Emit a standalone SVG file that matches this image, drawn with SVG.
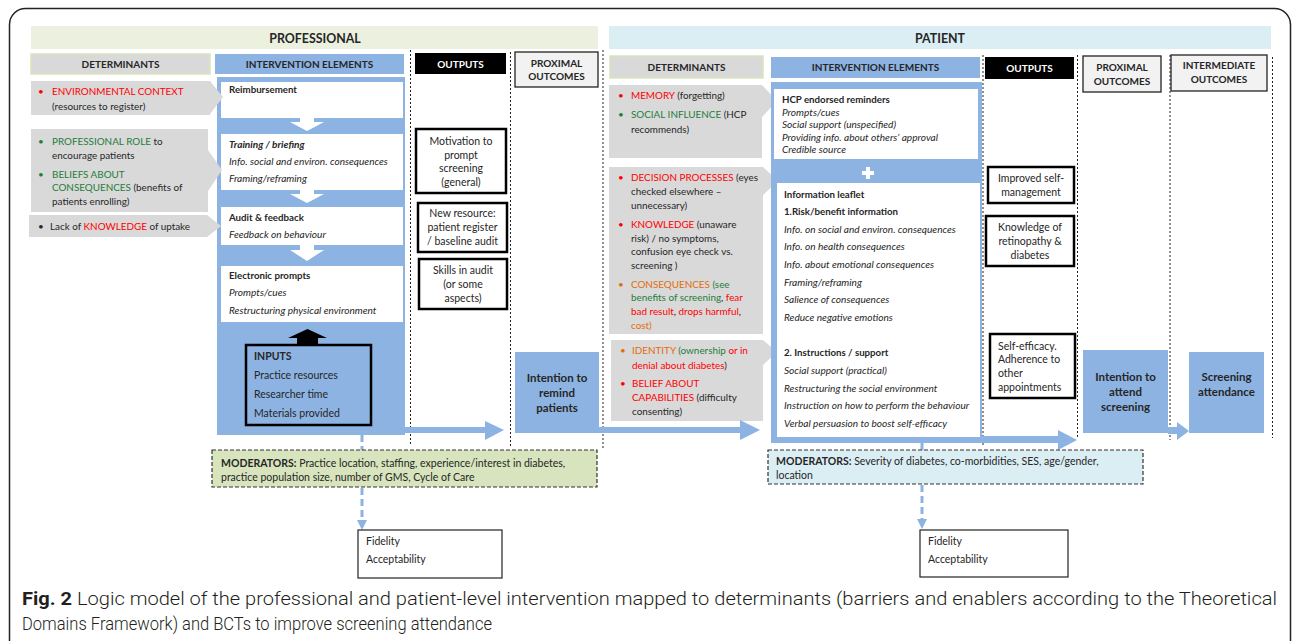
<svg xmlns="http://www.w3.org/2000/svg" width="1292" height="641" viewBox="0 0 1292 641">
<defs>
<style>
text{font-family:Lato,"Liberation Sans",sans-serif;fill:#262626}
.band{font-size:12.4px;font-weight:bold;text-anchor:middle}
.hdr{font-size:10px;font-weight:bold;text-anchor:middle}
.det{font-size:9.9px}
.ie{font-size:10.1px}
.ieb{font-size:9.7px;font-weight:bold}
.it{font-style:italic}
.b{font-weight:bold}
.out{font-size:10.5px}
.mid{text-anchor:middle}
.prox{font-size:11.5px;font-weight:bold;text-anchor:middle}
.mod{font-size:10.5px}
.red{fill:#ff0000}.grn{fill:#1e7d3a}.org{fill:#e46c0a}.wht{fill:#ffffff}
.dot{stroke:#222;stroke-width:1;stroke-dasharray:2 2;fill:none}
.blue{fill:#8db3e2}
.gray{fill:#d9d9d9}
.wbox{fill:#ffffff}
.obox{fill:#ffffff;stroke:#000;stroke-width:2.5}
.hbox{fill:#d9d9d9;stroke:#d7e4bd;stroke-width:1.5}
.pbox{fill:#f2f2f2;stroke:#222;stroke-width:1.3}
.bdash{stroke:#8db3e2;stroke-width:3;stroke-dasharray:7 4;fill:none}
.modbox{stroke:#333;stroke-width:1.2;stroke-dasharray:4 2}
.fbox{fill:#fff;stroke:#222;stroke-width:1.2}
.cap{font-family:Roboto,"Liberation Sans",sans-serif;font-size:19px;font-weight:300;fill:#231f20}
</style>
</defs>
<rect x="9.5" y="8.5" width="1281" height="700" rx="16" fill="#fff" stroke="#222" stroke-width="1.5"/>

<!-- bands -->
<g id="band-professional">
<rect x="31" y="26" width="567" height="23" fill="#ebf1de"/>
<text class="band" x="315" y="43">PROFESSIONAL</text>
</g>
<g id="band-patient">
<rect x="609" y="26" width="662" height="23" fill="#dbeef4"/>
<text class="band" x="940" y="43">PATIENT</text>
</g>

<!-- headers -->
<g id="hdr-prof-det"><rect class="hbox" x="31" y="54" width="179" height="20"/><text class="hdr" x="120.5" y="68">DETERMINANTS</text></g>
<g id="hdr-prof-ie"><rect class="blue" x="215" y="54" width="189" height="20"/><text class="hdr" x="309.5" y="68">INTERVENTION ELEMENTS</text></g>
<g id="hdr-prof-out"><rect x="415" y="53" width="91" height="21" fill="#000"/><text class="hdr wht" x="460.5" y="68">OUTPUTS</text></g>
<g id="hdr-prof-prox"><rect class="pbox" x="515" y="52" width="83" height="35"/><text class="hdr" x="556.5" y="67">PROXIMAL</text><text class="hdr" x="556.5" y="80">OUTCOMES</text></g>
<g id="hdr-pat-det"><rect class="hbox" x="610" y="56" width="153" height="22"/><text class="hdr" x="686.5" y="71">DETERMINANTS</text></g>
<g id="hdr-pat-ie"><rect class="blue" x="771" y="57" width="209" height="21"/><text class="hdr" x="875.5" y="71">INTERVENTION ELEMENTS</text></g>
<g id="hdr-pat-out"><rect x="985" y="57" width="89" height="22" fill="#000"/><text class="hdr wht" x="1029.5" y="72">OUTPUTS</text></g>
<g id="hdr-pat-prox"><rect class="pbox" x="1083" y="56" width="78" height="36"/><text class="hdr" x="1122" y="71">PROXIMAL</text><text class="hdr" x="1122" y="85">OUTCOMES</text></g>
<g id="hdr-pat-inter"><rect class="pbox" x="1171" y="55" width="96" height="36"/><text class="hdr" x="1219" y="69">INTERMEDIATE</text><text class="hdr" x="1219" y="83">OUTCOMES</text></g>

<!-- dotted column separators -->
<g id="separators">
<line class="dot" x1="410.5" y1="50" x2="410.5" y2="446"/>
<line class="dot" x1="510.5" y1="52" x2="510.5" y2="448"/>
<line class="dot" x1="603" y1="50" x2="603" y2="448"/>
<line class="dot" x1="983" y1="55" x2="983" y2="445"/>
<line class="dot" x1="1077.5" y1="55" x2="1077.5" y2="438"/>
<line class="dot" x1="1170" y1="55" x2="1170" y2="440"/>
<line class="dot" x1="1272.5" y1="57" x2="1272.5" y2="438"/>
</g>

<!-- professional intervention panel -->
<g id="prof-intervention">
<rect class="blue" x="217" y="77" width="188" height="358"/>
<rect class="wbox" x="221" y="82" width="182" height="36"/>
<text class="ieb" x="229" y="93">Reimbursement</text>
<polygon class="wbox" points="300,118 314,118 314,122 324,122 307,131 290,122 300,122"/>
<rect class="wbox" x="221" y="134" width="182" height="56"/>
<text class="ie b it" x="229" y="148">Training / briefing</text>
<text class="ie it" x="229" y="165">Info. social and environ. consequences</text>
<text class="ie it" x="229" y="182">Framing/reframing</text>
<polygon class="wbox" points="300,190 314,190 314,194 324,194 307,203 290,194 300,194"/>
<rect class="wbox" x="221" y="207" width="182" height="38"/>
<text class="ieb" x="229" y="221">Audit &amp; feedback</text>
<text class="ie it" x="229" y="238">Feedback on behaviour</text>
<polygon class="wbox" points="300,245 314,245 314,250 324,250 307,261 290,250 300,250"/>
<rect class="wbox" x="221" y="266" width="182" height="56"/>
<text class="ieb" x="229" y="279">Electronic prompts</text>
<text class="ie it" x="229" y="296">Prompts/cues</text>
<text class="ie it" x="229" y="314">Restructuring physical environment</text>
<polygon fill="#000" points="307.5,329 327,338 318,338 318,345 297,345 297,338 288,338"/>
</g>
<g id="prof-inputs">
<rect x="246" y="345" width="125" height="80" fill="#8db3e2" stroke="#000" stroke-width="2.5"/>
<text class="out b" x="254" y="360">INPUTS</text>
<text class="out" x="254" y="379">Practice resources</text>
<text class="out" x="254" y="398">Researcher time</text>
<text class="out" x="254" y="417">Materials provided</text>
</g>

<!-- professional determinants -->
<g id="prof-det-1">
<polygon class="gray" points="31,81 210,81 223,97 210,114 210,115 31,115"/>
<text class="det red" x="38" y="95">•</text>
<text class="det" x="52" y="95"><tspan class="red">ENVIRONMENTAL CONTEXT</tspan></text>
<text class="det" x="52" y="110">(resources to register)</text>
</g>
<g id="prof-det-2">
<polygon class="gray" points="31,129 208,129 208,150 222,170 208,191 208,212 31,212"/>
<text class="det grn" x="38" y="145">•</text>
<text class="det" x="52" y="145"><tspan class="grn">PROFESSIONAL ROLE</tspan> to</text>
<text class="det" x="52" y="159">encourage patients</text>
<text class="det grn" x="38" y="178">•</text>
<text class="det grn" x="52" y="178">BELIEFS ABOUT</text>
<text class="det" x="52" y="191"><tspan class="grn">CONSEQUENCES</tspan> (benefits of</text>
<text class="det" x="52" y="205">patients enrolling)</text>
</g>
<g id="prof-det-3">
<polygon class="gray" points="29,215 207,215 221,226 207,237 29,237"/>
<text class="det" x="38" y="230">•</text>
<text class="det" x="50" y="230">Lack of <tspan class="red">KNOWLEDGE</tspan> of uptake</text>
</g>

<!-- professional outputs -->
<g id="prof-out-1">
<rect class="obox" x="416" y="129" width="90" height="64"/>
<text class="out mid" x="461" y="145">Motivation to</text>
<text class="out mid" x="461" y="159">prompt</text>
<text class="out mid" x="461" y="172">screening</text>
<text class="out mid" x="461" y="186">(general)</text>
</g>
<g id="prof-out-2">
<rect class="obox" x="418" y="203" width="89" height="49"/>
<text class="out mid" x="462.5" y="217">New resource:</text>
<text class="out mid" x="462.5" y="231">patient register</text>
<text class="out mid" x="462.5" y="245">/ baseline audit</text>
</g>
<g id="prof-out-3">
<rect class="obox" x="419" y="259" width="88" height="50"/>
<text class="out mid" x="463" y="274">Skills in audit</text>
<text class="out mid" x="463" y="288">(or some</text>
<text class="out mid" x="463" y="302">aspects)</text>
</g>

<!-- professional proximal -->
<g id="prof-prox">
<rect class="blue" x="515" y="352" width="84" height="81"/>
<text class="prox" x="557" y="382">Intention to</text>
<text class="prox" x="557" y="397">remind</text>
<text class="prox" x="557" y="412">patients</text>
</g>

<!-- patient determinants -->
<g id="pat-det-1">
<polygon class="gray" points="609,85 762,85 777,101 762,117 762,158 609,158"/>
<text class="det red" x="618" y="99">•</text>
<text class="det" x="631" y="99"><tspan class="red">MEMORY</tspan> (forgetting)</text>
<text class="det grn" x="618" y="118">•</text>
<text class="det" x="631" y="118"><tspan class="grn">SOCIAL INFLUENCE</tspan> (HCP</text>
<text class="det" x="631" y="133">recommends)</text>
</g>
<g id="pat-det-2">
<polygon class="gray" points="609,167 763,167 778,181 763,195 763,334 609,334"/>
<text class="det red" x="618" y="181">•</text>
<text class="det" x="631" y="181"><tspan class="red">DECISION PROCESSES</tspan> (eyes</text>
<text class="det" x="631" y="195">checked elsewhere –</text>
<text class="det" x="631" y="209">unnecessary)</text>
<text class="det red" x="618" y="228">•</text>
<text class="det" x="631" y="228"><tspan class="red">KNOWLEDGE</tspan> (unaware</text>
<text class="det" x="631" y="242">risk) / no symptoms,</text>
<text class="det" x="631" y="255">confusion eye check vs.</text>
<text class="det" x="631" y="269">screening )</text>
<text class="det org" x="618" y="288">•</text>
<text class="det" x="631" y="288"><tspan class="org">CONSEQUENCES</tspan><tspan class="grn"> (see</tspan></text>
<text class="det" x="631" y="301"><tspan class="grn">benefits of screening</tspan>, <tspan class="red">fear</tspan></text>
<text class="det" x="631" y="315"><tspan class="red">bad result</tspan>, <tspan class="red">drops harmful</tspan>,</text>
<text class="det org" x="631" y="329">cost)</text>
</g>
<g id="pat-det-3">
<polygon class="gray" points="611,340 763,340 777,352 763,365 763,421 611,421"/>
<text class="det org" x="620" y="354">•</text>
<text class="det" x="632" y="354"><tspan class="org">IDENTITY</tspan><tspan class="grn"> (ownership</tspan><tspan class="red"> or in</tspan></text>
<text class="det" x="632" y="369"><tspan class="red">denial about diabetes</tspan>)</text>
<text class="det red" x="620" y="387">•</text>
<text class="det red" x="632" y="387">BELIEF ABOUT</text>
<text class="det" x="632" y="401"><tspan class="red">CAPABILITIES</tspan> (difficulty</text>
<text class="det" x="632" y="415">consenting)</text>
</g>

<!-- patient intervention panel -->
<g id="pat-intervention">
<rect class="blue" x="771" y="82" width="211" height="361"/>
<rect class="wbox" x="774" y="89" width="204" height="70"/>
<text class="ieb" x="782" y="103">HCP endorsed reminders</text>
<text class="ie it" x="782" y="115.5">Prompts/cues</text>
<text class="ie it" x="782" y="128">Social support (unspecified)</text>
<text class="ie it" x="782" y="140.5">Providing info. about others’ approval</text>
<text class="ie it" x="782" y="153">Credible source</text>
<rect class="wbox" x="862" y="171" width="12" height="4"/>
<rect class="wbox" x="866" y="167" width="4" height="12"/>
<rect class="wbox" x="777" y="183" width="203" height="254"/>
<text class="ieb" x="784" y="198">Information leaflet</text>
<text class="ieb" x="784" y="215">1.Risk/benefit information</text>
<text class="ie it" x="784" y="233">Info. on social and environ. consequences</text>
<text class="ie it" x="784" y="250">Info. on health consequences</text>
<text class="ie it" x="784" y="268">Info. about emotional consequences</text>
<text class="ie it" x="784" y="286">Framing/reframing</text>
<text class="ie it" x="784" y="303">Salience of consequences</text>
<text class="ie it" x="784" y="321">Reduce negative emotions</text>
<text class="ieb" x="784" y="356">2. Instructions / support</text>
<text class="ie it" x="784" y="374">Social support (practical)</text>
<text class="ie it" x="784" y="392">Restructuring the social environment</text>
<text class="ie it" x="784" y="409">Instruction on how to perform the behaviour</text>
<text class="ie it" x="784" y="427">Verbal persuasion to boost self-efficacy</text>
</g>

<!-- patient outputs -->
<g id="pat-out-1">
<rect class="obox" x="988" y="167" width="86" height="36"/>
<text class="out mid" x="1031" y="182">Improved self-</text>
<text class="out mid" x="1031" y="196">management</text>
</g>
<g id="pat-out-2">
<rect class="obox" x="986" y="216" width="88" height="50"/>
<text class="out mid" x="1030" y="231">Knowledge of</text>
<text class="out mid" x="1030" y="245">retinopathy &amp;</text>
<text class="out mid" x="1030" y="259">diabetes</text>
</g>
<g id="pat-out-3">
<rect class="obox" x="990" y="334" width="85" height="64"/>
<text class="out" x="998" y="350">Self-efficacy.</text>
<text class="out" x="998" y="363">Adherence to</text>
<text class="out" x="998" y="377">other</text>
<text class="out" x="998" y="391">appointments</text>
</g>

<!-- patient outcomes -->
<g id="pat-prox">
<rect class="blue" x="1083" y="350" width="85" height="83"/>
<text class="prox" x="1125.5" y="381">Intention to</text>
<text class="prox" x="1125.5" y="396">attend</text>
<text class="prox" x="1125.5" y="411">screening</text>
</g>
<g id="pat-inter">
<rect class="blue" x="1189" y="352" width="75" height="81"/>
<text class="prox" x="1226.5" y="381">Screening</text>
<text class="prox" x="1226.5" y="396">attendance</text>
</g>

<!-- connectors -->
<g id="connectors">
<rect class="blue" x="404" y="427" width="82" height="6"/>
<polygon class="blue" points="485,421 504,430 485,440"/>
<rect class="blue" x="598" y="427" width="143" height="6"/>
<polygon class="blue" points="740,420 760,430 740,440"/>
<rect class="blue" x="981" y="436" width="78" height="7"/>
<polygon class="blue" points="1058,430 1077,440 1058,450"/>
<rect class="blue" x="1168" y="427" width="10" height="7"/>
<polygon class="blue" points="1177,422 1189,431 1177,440"/>
<line class="bdash" x1="362" y1="435" x2="362" y2="450"/>
<line class="bdash" x1="362" y1="488" x2="362" y2="522"/>
<polygon class="blue" points="357,520 367,520 362,530"/>
<line class="bdash" x1="922" y1="443" x2="922" y2="450"/>
<line class="bdash" x1="922" y1="485" x2="922" y2="520"/>
<polygon class="blue" points="917,519 927,519 922,529"/>
</g>

<!-- moderators -->
<g id="prof-moderators">
<rect class="modbox" x="212" y="450" width="385" height="37" fill="#d7e4bd"/>
<text class="mod" x="221" y="466.5"><tspan class="b">MODERATORS:</tspan> Practice location, staffing, experience/interest in diabetes,</text>
<text class="mod" x="221" y="480.5">practice population size, number of GMS, Cycle of Care</text>
</g>
<g id="pat-moderators">
<rect class="modbox" x="768" y="450" width="375" height="34" fill="#dbeef3"/>
<text class="mod" x="776" y="465"><tspan class="b">MODERATORS:</tspan> Severity of diabetes, co-morbidities, SES, age/gender,</text>
<text class="mod" x="776" y="479">location</text>
</g>

<!-- fidelity -->
<g id="prof-fidelity">
<rect class="fbox" x="358" y="530" width="144" height="48"/>
<text class="mod" x="366" y="545">Fidelity</text>
<text class="mod" x="366" y="563">Acceptability</text>
</g>
<g id="pat-fidelity">
<rect class="fbox" x="920" y="530" width="148" height="47"/>
<text class="mod" x="928" y="545">Fidelity</text>
<text class="mod" x="928" y="563">Acceptability</text>
</g>

<!-- caption -->
<g id="caption">
<text class="cap" x="22" y="605" textLength="1255" lengthAdjust="spacingAndGlyphs"><tspan font-weight="bold">Fig. 2</tspan> Logic model of the professional and patient-level intervention mapped to determinants (barriers and enablers according to the Theoretical</text>
<text class="cap" x="22" y="630" textLength="470" lengthAdjust="spacingAndGlyphs">Domains Framework) and BCTs to improve screening attendance</text>
</g>
</svg>
